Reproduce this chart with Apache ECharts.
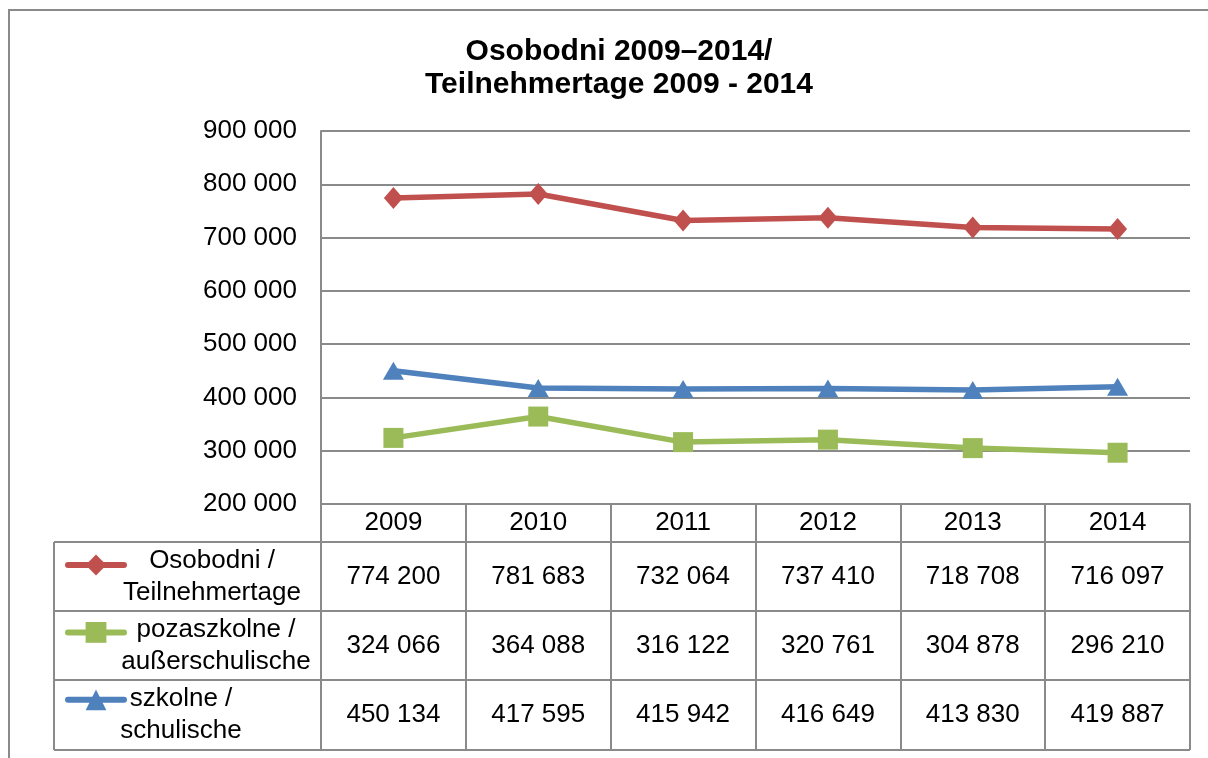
<!DOCTYPE html>
<html>
<head>
<meta charset="utf-8">
<script src="https://cdn.jsdelivr.net/npm/echarts@6/dist/echarts.min.js"></script>
<style>
  html, body { margin: 0; padding: 0; background: #fff; }
  #chart { width: 1208px; height: 758px; }
</style>
</head>
<body>
<div id="chart"></div>
<script>
// data
var years = ["2009", "2010", "2011", "2012", "2013", "2014"];
var seriesNames = ["Osobodni / Teilnehmertage", "pozaszkolne / außerschulische", "szkolne / schulische"];
var nameLines = [["Osobodni /", "Teilnehmertage"], ["pozaszkolne /", "außerschulische"], ["szkolne /", "schulische"]];
var osobodni = [774200, 781683, 732064, 737410, 718708, 716097];
var pozaszkolne = [324066, 364088, 316122, 320761, 304878, 296210];
var szkolne = [450134, 417595, 415942, 416649, 413830, 419887];
var yTicks = [200000, 300000, 400000, 500000, 600000, 700000, 800000, 900000];

var colors = ["#C0504D", "#9BBB59", "#4F81BD"];
var gray = "#8a8a8a";
var font = "Liberation Sans, Arial, sans-serif";

function fmt(v) {
  return String(v).replace(/\B(?=(\d{3})+(?!\d))/g, " ");
}

var dom = document.getElementById("chart");
var myChart = echarts.init(dom, null, { renderer: "canvas" });

var rowTops = [542, 611, 680, 750];
var nameCenters = [212, 216, 181];

var option = {
  animation: false,
  title: {
    text: "Osobodni 2009–2014/\nTeilnehmertage 2009 - 2014",
    left: 614,
    textAlign: "center",
    top: 30,
    textStyle: { fontFamily: font, fontSize: 30, fontWeight: "bold", color: "#000", lineHeight: 33 },
  },
  legend: {
    orient: "vertical",
    left: 60,
    top: 547,
    itemWidth: 56,
    itemHeight: 26,
    itemGap: 44,
    lineStyle: { width: 6, cap: "round" },
    formatter: function () { return ""; },
    data: seriesNames,
  },
  grid: { left: 321, right: 18, top: 131, bottom: 254 },
  xAxis: {
    type: "category",
    data: years,
    boundaryGap: true,
    axisLine: { lineStyle: { color: gray, width: 2 } },
    axisTick: { show: true, length: 246, interval: 0, lineStyle: { color: gray, width: 2 } },
    axisLabel: { color: "#000", fontSize: 26, fontFamily: font, margin: 6 },
  },
  yAxis: {
    type: "value",
    min: yTicks[0],
    max: yTicks[yTicks.length - 1],
    interval: 100000,
    axisLine: { show: true, lineStyle: { color: gray, width: 2 } },
    axisTick: { show: false },
    splitLine: { lineStyle: { color: gray, width: 2 } },
    axisLabel: { color: "#000", fontSize: 26, fontFamily: font, margin: 24, formatter: fmt },
  },
  series: [
    {
      name: seriesNames[0], type: "line", data: osobodni,
      symbol: "diamond", symbolSize: [19, 22],
      lineStyle: { color: colors[0], width: 5.5 }, itemStyle: { color: colors[0] },
    },
    {
      name: seriesNames[1], type: "line", data: pozaszkolne,
      symbol: "rect", symbolSize: 20,
      lineStyle: { color: colors[1], width: 5.5 }, itemStyle: { color: colors[1] },
    },
    {
      name: seriesNames[2], type: "line", data: szkolne,
      symbol: "triangle", symbolSize: [21, 18],
      lineStyle: { color: colors[2], width: 5.5 }, itemStyle: { color: colors[2] },
    },
  ],
};
myChart.setOption(option);

// data table under the plot
var tableData = [osobodni, pozaszkolne, szkolne];
var graphics = [
  { type: "rect", shape: { x: 9, y: 10, width: 1300, height: 800 }, style: { fill: "none", stroke: gray, lineWidth: 2 }, silent: true },
  { type: "line", shape: { x1: 54, y1: rowTops[0], x2: 54, y2: rowTops[3] }, style: { stroke: gray, lineWidth: 2 } },
];
rowTops.forEach(function (y) {
  graphics.push({ type: "line", shape: { x1: 54, y1: y, x2: 1190, y2: y }, style: { stroke: gray, lineWidth: 2 } });
});
tableData.forEach(function (row, r) {
  var cy = (rowTops[r] + rowTops[r + 1]) / 2;
  graphics.push({
    type: "text", x: nameCenters[r], y: cy,
    style: { text: nameLines[r].join("\n"), font: "26px " + font, fill: "#000", align: "center", verticalAlign: "middle", lineHeight: 32 },
  });
  row.forEach(function (v, i) {
    var cx = myChart.convertToPixel({ xAxisIndex: 0 }, years[i]);
    graphics.push({
      type: "text", x: cx, y: cy,
      style: { text: fmt(v), font: "26px " + font, fill: "#000", align: "center", verticalAlign: "middle" },
    });
  });
});
myChart.setOption({ graphic: graphics });
window.addEventListener("resize", myChart.resize);
</script>
</body>
</html>
